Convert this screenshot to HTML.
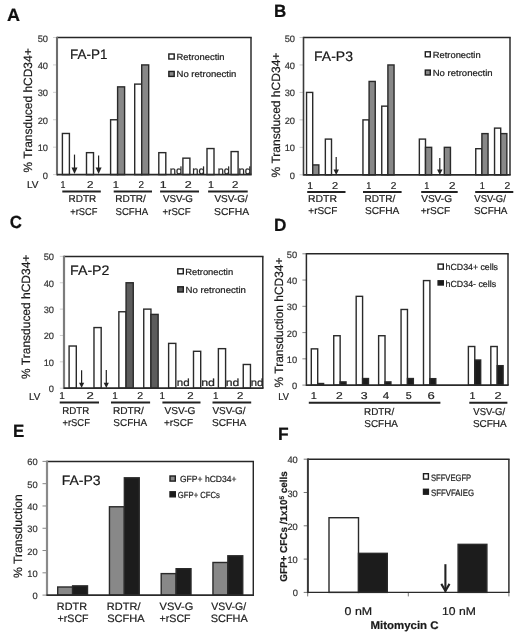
<!DOCTYPE html>
<html><head><meta charset="utf-8"><style>
html,body{margin:0;padding:0;background:#fff;width:520px;height:636px;overflow:hidden}
</style></head><body>
<svg width="520" height="636" viewBox="0 0 520 636" style="display:block;filter:blur(0.35px)">
<rect width="520" height="636" fill="#fff"/>
<g font-family='"Liberation Sans", sans-serif' text-rendering="geometricPrecision">
<text x="7.05" y="20.80" font-size="17.7" font-weight="bold" textLength="13.04" lengthAdjust="spacingAndGlyphs" fill="#111" stroke="#111" stroke-width="0.2">A</text>
<rect x="62.40" y="133.47" width="7.00" height="41.13" fill="#fff" stroke="#2a2a2a" stroke-width="1.4"/>
<rect x="86.50" y="152.66" width="7.00" height="21.94" fill="#fff" stroke="#2a2a2a" stroke-width="1.4"/>
<rect x="110.60" y="119.76" width="7.00" height="54.84" fill="#fff" stroke="#2a2a2a" stroke-width="1.4"/>
<rect x="117.60" y="86.86" width="7.00" height="87.74" fill="#888" stroke="#2a2a2a" stroke-width="1.4"/>
<rect x="134.70" y="84.11" width="7.00" height="90.49" fill="#fff" stroke="#2a2a2a" stroke-width="1.4"/>
<rect x="141.70" y="64.92" width="7.00" height="109.68" fill="#888" stroke="#2a2a2a" stroke-width="1.4"/>
<rect x="158.80" y="152.66" width="7.00" height="21.94" fill="#fff" stroke="#2a2a2a" stroke-width="1.4"/>
<rect x="182.90" y="158.15" width="7.00" height="16.45" fill="#fff" stroke="#2a2a2a" stroke-width="1.4"/>
<rect x="207.00" y="148.55" width="7.00" height="26.05" fill="#fff" stroke="#2a2a2a" stroke-width="1.4"/>
<rect x="231.10" y="151.57" width="7.00" height="23.03" fill="#fff" stroke="#2a2a2a" stroke-width="1.4"/>
<line x1="53.00" y1="174.60" x2="57.00" y2="174.60" stroke="#d0d0d0" stroke-width="1"/>
<text x="48.00" y="178.60" font-size="9.3" text-anchor="end" fill="#333" stroke="#333" stroke-width="0.2">0</text>
<line x1="53.00" y1="147.18" x2="57.00" y2="147.18" stroke="#d0d0d0" stroke-width="1"/>
<text x="48.00" y="151.18" font-size="9.3" text-anchor="end" fill="#333" stroke="#333" stroke-width="0.2">10</text>
<line x1="53.00" y1="119.76" x2="57.00" y2="119.76" stroke="#d0d0d0" stroke-width="1"/>
<text x="48.00" y="123.76" font-size="9.3" text-anchor="end" fill="#333" stroke="#333" stroke-width="0.2">20</text>
<line x1="53.00" y1="92.34" x2="57.00" y2="92.34" stroke="#d0d0d0" stroke-width="1"/>
<text x="48.00" y="96.34" font-size="9.3" text-anchor="end" fill="#333" stroke="#333" stroke-width="0.2">30</text>
<line x1="53.00" y1="64.92" x2="57.00" y2="64.92" stroke="#d0d0d0" stroke-width="1"/>
<text x="48.00" y="68.92" font-size="9.3" text-anchor="end" fill="#333" stroke="#333" stroke-width="0.2">40</text>
<line x1="53.00" y1="37.50" x2="57.00" y2="37.50" stroke="#d0d0d0" stroke-width="1"/>
<text x="48.00" y="41.50" font-size="9.3" text-anchor="end" fill="#333" stroke="#333" stroke-width="0.2">50</text>
<line x1="57.00" y1="37.50" x2="251.72" y2="37.50" stroke="#262626" stroke-width="1.45"/>
<line x1="251.00" y1="37.50" x2="251.00" y2="174.60" stroke="#262626" stroke-width="1.45"/>
<line x1="57.00" y1="36.77" x2="57.00" y2="175.45" stroke="#6e6e6e" stroke-width="2.1"/>
<line x1="57.00" y1="174.60" x2="251.72" y2="174.60" stroke="#2a2a2a" stroke-width="1.7"/>
<line x1="74.50" y1="154.60" x2="74.50" y2="168.00" stroke="#222" stroke-width="1.2"/>
<path d="M71.50,167.50 L77.50,167.50 L74.50,174.00 Z" fill="#222"/>
<line x1="98.60" y1="155.40" x2="98.60" y2="168.00" stroke="#222" stroke-width="1.2"/>
<path d="M95.60,167.50 L101.60,167.50 L98.60,174.00 Z" fill="#222"/>
<text x="169.78" y="173.80" font-size="10.3" textLength="12.37" lengthAdjust="spacingAndGlyphs" fill="#222" stroke="#222" stroke-width="0.2">nd</text>
<text x="192.16" y="173.80" font-size="10.3" textLength="12.60" lengthAdjust="spacingAndGlyphs" fill="#222" stroke="#222" stroke-width="0.2">nd</text>
<text x="217.79" y="173.80" font-size="10.3" textLength="12.14" lengthAdjust="spacingAndGlyphs" fill="#222" stroke="#222" stroke-width="0.2">nd</text>
<text x="238.46" y="173.80" font-size="10.3" textLength="12.60" lengthAdjust="spacingAndGlyphs" fill="#222" stroke="#222" stroke-width="0.2">nd</text>
<text x="70.12" y="59.30" font-size="13.7" textLength="37.44" lengthAdjust="spacingAndGlyphs" fill="#1a1a1a" stroke="#1a1a1a" stroke-width="0.2">FA-P1</text>
<rect x="168.85" y="54.00" width="5.35" height="5.00" fill="#fff" stroke="#1e1e1e" stroke-width="1.4"/>
<text x="176.55" y="60.20" font-size="8.9" textLength="48.05" lengthAdjust="spacingAndGlyphs" fill="#1a1a1a" stroke="#1a1a1a" stroke-width="0.2">Retronectin</text>
<rect x="168.85" y="71.45" width="5.35" height="4.95" fill="#888" stroke="#1e1e1e" stroke-width="1.4"/>
<text x="176.54" y="77.10" font-size="8.9" textLength="59.89" lengthAdjust="spacingAndGlyphs" fill="#1a1a1a" stroke="#1a1a1a" stroke-width="0.2">No retronectin</text>
<text x="26.90" y="188.30" font-size="10" textLength="11.49" lengthAdjust="spacingAndGlyphs" fill="#1a1a1a" stroke="#1a1a1a" stroke-width="0.2">LV</text>
<text x="32.00" y="172.42" font-size="12" textLength="124.09" lengthAdjust="spacingAndGlyphs" transform="rotate(-90 32.00 172.42)" fill="#1a1a1a" stroke="#1a1a1a" stroke-width="0.2">% Transduced hCD34+</text>
<text x="60.54" y="188.40" font-size="10" textLength="4.92" lengthAdjust="spacingAndGlyphs" fill="#222" stroke="#222" stroke-width="0.2">1</text>
<text x="87.12" y="188.40" font-size="10" textLength="6.48" lengthAdjust="spacingAndGlyphs" fill="#222" stroke="#222" stroke-width="0.2">2</text>
<text x="112.86" y="188.40" font-size="10" textLength="6.21" lengthAdjust="spacingAndGlyphs" fill="#222" stroke="#222" stroke-width="0.2">1</text>
<text x="138.51" y="188.40" font-size="10" textLength="5.50" lengthAdjust="spacingAndGlyphs" fill="#222" stroke="#222" stroke-width="0.2">2</text>
<text x="159.68" y="188.40" font-size="10" textLength="6.86" lengthAdjust="spacingAndGlyphs" fill="#222" stroke="#222" stroke-width="0.2">1</text>
<text x="184.87" y="188.40" font-size="10" textLength="6.97" lengthAdjust="spacingAndGlyphs" fill="#222" stroke="#222" stroke-width="0.2">2</text>
<text x="208.00" y="188.40" font-size="10" textLength="5.95" lengthAdjust="spacingAndGlyphs" fill="#222" stroke="#222" stroke-width="0.2">1</text>
<text x="231.93" y="188.40" font-size="10" textLength="6.36" lengthAdjust="spacingAndGlyphs" fill="#222" stroke="#222" stroke-width="0.2">2</text>
<line x1="62.30" y1="191.40" x2="100.80" y2="191.40" stroke="#222" stroke-width="2.0"/>
<line x1="113.70" y1="191.40" x2="152.00" y2="191.40" stroke="#222" stroke-width="2.0"/>
<line x1="160.10" y1="191.40" x2="199.00" y2="191.40" stroke="#222" stroke-width="2.0"/>
<line x1="208.10" y1="191.40" x2="247.70" y2="191.40" stroke="#222" stroke-width="2.0"/>
<text x="68.60" y="202.40" font-size="10.0" textLength="27.67" lengthAdjust="spacingAndGlyphs" fill="#1a1a1a" stroke="#1a1a1a" stroke-width="0.2">RDTR</text>
<text x="70.34" y="214.60" font-size="10.0" textLength="27.05" lengthAdjust="spacingAndGlyphs" fill="#1a1a1a" stroke="#1a1a1a" stroke-width="0.2">+rSCF</text>
<text x="115.20" y="202.40" font-size="10.0" textLength="30.66" lengthAdjust="spacingAndGlyphs" fill="#1a1a1a" stroke="#1a1a1a" stroke-width="0.2">RDTR/</text>
<text x="115.57" y="214.60" font-size="10.0" textLength="32.47" lengthAdjust="spacingAndGlyphs" fill="#1a1a1a" stroke="#1a1a1a" stroke-width="0.2">SCFHA</text>
<text x="163.05" y="202.40" font-size="10.0" textLength="29.95" lengthAdjust="spacingAndGlyphs" fill="#1a1a1a" stroke="#1a1a1a" stroke-width="0.2">VSV-G</text>
<text x="162.62" y="214.60" font-size="10.0" textLength="27.98" lengthAdjust="spacingAndGlyphs" fill="#1a1a1a" stroke="#1a1a1a" stroke-width="0.2">+rSCF</text>
<text x="214.45" y="202.40" font-size="10.0" textLength="33.30" lengthAdjust="spacingAndGlyphs" fill="#1a1a1a" stroke="#1a1a1a" stroke-width="0.2">VSV-G/</text>
<text x="214.04" y="214.60" font-size="10.0" textLength="35.01" lengthAdjust="spacingAndGlyphs" fill="#1a1a1a" stroke="#1a1a1a" stroke-width="0.2">SCFHA</text>
<text x="273.89" y="16.90" font-size="17.7" font-weight="bold" textLength="12.31" lengthAdjust="spacingAndGlyphs" fill="#111" stroke="#111" stroke-width="0.2">B</text>
<rect x="306.55" y="92.42" width="6.15" height="82.38" fill="#fff" stroke="#2a2a2a" stroke-width="1.4"/>
<rect x="312.70" y="164.91" width="6.15" height="9.89" fill="#888" stroke="#2a2a2a" stroke-width="1.4"/>
<rect x="325.35" y="139.10" width="6.15" height="35.70" fill="#fff" stroke="#2a2a2a" stroke-width="1.4"/>
<rect x="362.95" y="119.88" width="6.15" height="54.92" fill="#fff" stroke="#2a2a2a" stroke-width="1.4"/>
<rect x="369.10" y="81.44" width="6.15" height="93.36" fill="#888" stroke="#2a2a2a" stroke-width="1.4"/>
<rect x="381.75" y="106.15" width="6.15" height="68.65" fill="#fff" stroke="#2a2a2a" stroke-width="1.4"/>
<rect x="387.90" y="64.96" width="6.15" height="109.84" fill="#888" stroke="#2a2a2a" stroke-width="1.4"/>
<rect x="419.35" y="139.10" width="6.15" height="35.70" fill="#fff" stroke="#2a2a2a" stroke-width="1.4"/>
<rect x="425.50" y="147.34" width="6.15" height="27.46" fill="#888" stroke="#2a2a2a" stroke-width="1.4"/>
<rect x="444.30" y="147.34" width="6.15" height="27.46" fill="#888" stroke="#2a2a2a" stroke-width="1.4"/>
<rect x="475.75" y="148.71" width="6.15" height="26.09" fill="#fff" stroke="#2a2a2a" stroke-width="1.4"/>
<rect x="481.90" y="133.61" width="6.15" height="41.19" fill="#888" stroke="#2a2a2a" stroke-width="1.4"/>
<rect x="494.55" y="128.12" width="6.15" height="46.68" fill="#fff" stroke="#2a2a2a" stroke-width="1.4"/>
<rect x="500.70" y="133.61" width="6.15" height="41.19" fill="#888" stroke="#2a2a2a" stroke-width="1.4"/>
<line x1="299.50" y1="174.80" x2="303.50" y2="174.80" stroke="#c8c8c8" stroke-width="1"/>
<text x="295.00" y="178.80" font-size="9.3" text-anchor="end" fill="#333" stroke="#333" stroke-width="0.2">0</text>
<line x1="299.50" y1="147.34" x2="303.50" y2="147.34" stroke="#c8c8c8" stroke-width="1"/>
<text x="295.00" y="151.34" font-size="9.3" text-anchor="end" fill="#333" stroke="#333" stroke-width="0.2">10</text>
<line x1="299.50" y1="119.88" x2="303.50" y2="119.88" stroke="#c8c8c8" stroke-width="1"/>
<text x="295.00" y="123.88" font-size="9.3" text-anchor="end" fill="#333" stroke="#333" stroke-width="0.2">20</text>
<line x1="299.50" y1="92.42" x2="303.50" y2="92.42" stroke="#c8c8c8" stroke-width="1"/>
<text x="295.00" y="96.42" font-size="9.3" text-anchor="end" fill="#333" stroke="#333" stroke-width="0.2">30</text>
<line x1="299.50" y1="64.96" x2="303.50" y2="64.96" stroke="#c8c8c8" stroke-width="1"/>
<text x="295.00" y="68.96" font-size="9.3" text-anchor="end" fill="#333" stroke="#333" stroke-width="0.2">40</text>
<line x1="299.50" y1="37.50" x2="303.50" y2="37.50" stroke="#c8c8c8" stroke-width="1"/>
<text x="295.00" y="41.50" font-size="9.3" text-anchor="end" fill="#333" stroke="#333" stroke-width="0.2">50</text>
<line x1="303.50" y1="37.50" x2="510.73" y2="37.50" stroke="#262626" stroke-width="1.45"/>
<line x1="510.00" y1="37.50" x2="510.00" y2="174.80" stroke="#262626" stroke-width="1.45"/>
<line x1="303.50" y1="36.77" x2="303.50" y2="175.65" stroke="#3a3a3a" stroke-width="1.6"/>
<line x1="303.50" y1="174.80" x2="510.73" y2="174.80" stroke="#2a2a2a" stroke-width="1.7"/>
<line x1="336.20" y1="157.00" x2="336.20" y2="170.00" stroke="#222" stroke-width="1.2"/>
<path d="M333.50,169.50 L338.90,169.50 L336.20,175.00 Z" fill="#222"/>
<line x1="439.80" y1="158.00" x2="439.80" y2="170.00" stroke="#222" stroke-width="1.2"/>
<path d="M437.10,169.50 L442.50,169.50 L439.80,175.00 Z" fill="#222"/>
<text x="314.08" y="60.50" font-size="13.7" textLength="38.94" lengthAdjust="spacingAndGlyphs" fill="#1a1a1a" stroke="#1a1a1a" stroke-width="0.2">FA-P3</text>
<rect x="425.30" y="51.80" width="5.00" height="5.00" fill="#fff" stroke="#1e1e1e" stroke-width="1.4"/>
<text x="432.75" y="57.70" font-size="8.9" textLength="47.85" lengthAdjust="spacingAndGlyphs" fill="#1a1a1a" stroke="#1a1a1a" stroke-width="0.2">Retronectin</text>
<rect x="425.30" y="70.10" width="5.00" height="4.90" fill="#888" stroke="#1e1e1e" stroke-width="1.4"/>
<text x="432.74" y="76.10" font-size="8.9" textLength="59.89" lengthAdjust="spacingAndGlyphs" fill="#1a1a1a" stroke="#1a1a1a" stroke-width="0.2">No retronectin</text>
<text x="279.80" y="177.42" font-size="12" textLength="124.79" lengthAdjust="spacingAndGlyphs" transform="rotate(-90 279.80 177.42)" fill="#1a1a1a" stroke="#1a1a1a" stroke-width="0.2">% Transduced hCD34+</text>
<text x="307.22" y="188.60" font-size="10" textLength="5.82" lengthAdjust="spacingAndGlyphs" fill="#222" stroke="#222" stroke-width="0.2">1</text>
<text x="331.95" y="188.60" font-size="10" textLength="6.11" lengthAdjust="spacingAndGlyphs" fill="#222" stroke="#222" stroke-width="0.2">2</text>
<text x="366.32" y="188.60" font-size="10" textLength="5.04" lengthAdjust="spacingAndGlyphs" fill="#222" stroke="#222" stroke-width="0.2">1</text>
<text x="390.69" y="188.60" font-size="10" textLength="5.62" lengthAdjust="spacingAndGlyphs" fill="#222" stroke="#222" stroke-width="0.2">2</text>
<text x="424.32" y="188.60" font-size="10" textLength="5.04" lengthAdjust="spacingAndGlyphs" fill="#222" stroke="#222" stroke-width="0.2">1</text>
<text x="449.12" y="188.60" font-size="10" textLength="6.48" lengthAdjust="spacingAndGlyphs" fill="#222" stroke="#222" stroke-width="0.2">2</text>
<text x="479.72" y="188.60" font-size="10" textLength="5.04" lengthAdjust="spacingAndGlyphs" fill="#222" stroke="#222" stroke-width="0.2">1</text>
<text x="504.48" y="188.60" font-size="10" textLength="5.75" lengthAdjust="spacingAndGlyphs" fill="#222" stroke="#222" stroke-width="0.2">2</text>
<line x1="307.20" y1="191.90" x2="345.50" y2="191.90" stroke="#222" stroke-width="2.0"/>
<line x1="363.00" y1="191.90" x2="401.60" y2="191.90" stroke="#222" stroke-width="2.0"/>
<line x1="421.20" y1="191.90" x2="457.70" y2="191.90" stroke="#222" stroke-width="2.0"/>
<line x1="475.20" y1="191.90" x2="513.30" y2="191.90" stroke="#222" stroke-width="2.0"/>
<text x="307.96" y="202.40" font-size="10.0" textLength="29.03" lengthAdjust="spacingAndGlyphs" fill="#1a1a1a" stroke="#1a1a1a" stroke-width="0.2">RDTR</text>
<text x="308.30" y="214.40" font-size="10.0" textLength="29.12" lengthAdjust="spacingAndGlyphs" fill="#1a1a1a" stroke="#1a1a1a" stroke-width="0.2">+rSCF</text>
<text x="364.60" y="202.40" font-size="10.0" textLength="30.66" lengthAdjust="spacingAndGlyphs" fill="#1a1a1a" stroke="#1a1a1a" stroke-width="0.2">RDTR/</text>
<text x="364.94" y="214.40" font-size="10.0" textLength="34.40" lengthAdjust="spacingAndGlyphs" fill="#1a1a1a" stroke="#1a1a1a" stroke-width="0.2">SCFHA</text>
<text x="421.15" y="202.40" font-size="10.0" textLength="30.88" lengthAdjust="spacingAndGlyphs" fill="#1a1a1a" stroke="#1a1a1a" stroke-width="0.2">VSV-G</text>
<text x="420.70" y="214.40" font-size="10.0" textLength="29.43" lengthAdjust="spacingAndGlyphs" fill="#1a1a1a" stroke="#1a1a1a" stroke-width="0.2">+rSCF</text>
<text x="474.35" y="202.40" font-size="10.0" textLength="31.49" lengthAdjust="spacingAndGlyphs" fill="#1a1a1a" stroke="#1a1a1a" stroke-width="0.2">VSV-G/</text>
<text x="473.96" y="214.40" font-size="10.0" textLength="33.49" lengthAdjust="spacingAndGlyphs" fill="#1a1a1a" stroke="#1a1a1a" stroke-width="0.2">SCFHA</text>
<text x="9.72" y="228.40" font-size="17.7" font-weight="bold" textLength="12.24" lengthAdjust="spacingAndGlyphs" fill="#111" stroke="#111" stroke-width="0.2">C</text>
<rect x="69.10" y="346.02" width="7.20" height="42.18" fill="#fff" stroke="#2a2a2a" stroke-width="1.4"/>
<rect x="93.98" y="327.57" width="7.20" height="60.63" fill="#fff" stroke="#2a2a2a" stroke-width="1.4"/>
<rect x="118.86" y="311.76" width="7.20" height="76.44" fill="#fff" stroke="#2a2a2a" stroke-width="1.4"/>
<rect x="126.06" y="282.76" width="7.20" height="105.44" fill="#5c5c5c" stroke="#2a2a2a" stroke-width="1.4"/>
<rect x="143.74" y="309.12" width="7.20" height="79.08" fill="#fff" stroke="#2a2a2a" stroke-width="1.4"/>
<rect x="150.94" y="314.39" width="7.20" height="73.81" fill="#5c5c5c" stroke="#2a2a2a" stroke-width="1.4"/>
<rect x="168.62" y="343.39" width="7.20" height="44.81" fill="#fff" stroke="#2a2a2a" stroke-width="1.4"/>
<rect x="193.50" y="351.30" width="7.20" height="36.90" fill="#fff" stroke="#2a2a2a" stroke-width="1.4"/>
<rect x="218.38" y="348.66" width="7.20" height="39.54" fill="#fff" stroke="#2a2a2a" stroke-width="1.4"/>
<rect x="243.26" y="364.48" width="7.20" height="23.72" fill="#fff" stroke="#2a2a2a" stroke-width="1.4"/>
<line x1="59.80" y1="388.20" x2="63.80" y2="388.20" stroke="#d0d0d0" stroke-width="1"/>
<text x="54.00" y="392.20" font-size="9.3" text-anchor="end" fill="#333" stroke="#333" stroke-width="0.2">0</text>
<line x1="59.80" y1="361.84" x2="63.80" y2="361.84" stroke="#d0d0d0" stroke-width="1"/>
<text x="54.00" y="365.84" font-size="9.3" text-anchor="end" fill="#333" stroke="#333" stroke-width="0.2">10</text>
<line x1="59.80" y1="335.48" x2="63.80" y2="335.48" stroke="#d0d0d0" stroke-width="1"/>
<text x="54.00" y="339.48" font-size="9.3" text-anchor="end" fill="#333" stroke="#333" stroke-width="0.2">20</text>
<line x1="59.80" y1="309.12" x2="63.80" y2="309.12" stroke="#d0d0d0" stroke-width="1"/>
<text x="54.00" y="313.12" font-size="9.3" text-anchor="end" fill="#333" stroke="#333" stroke-width="0.2">30</text>
<line x1="59.80" y1="282.76" x2="63.80" y2="282.76" stroke="#d0d0d0" stroke-width="1"/>
<text x="54.00" y="286.76" font-size="9.3" text-anchor="end" fill="#333" stroke="#333" stroke-width="0.2">40</text>
<line x1="59.80" y1="256.40" x2="63.80" y2="256.40" stroke="#d0d0d0" stroke-width="1"/>
<text x="54.00" y="260.40" font-size="9.3" text-anchor="end" fill="#333" stroke="#333" stroke-width="0.2">50</text>
<line x1="63.80" y1="256.40" x2="263.53" y2="256.40" stroke="#262626" stroke-width="1.45"/>
<line x1="262.80" y1="256.40" x2="262.80" y2="388.20" stroke="#262626" stroke-width="1.45"/>
<line x1="64.00" y1="255.67" x2="64.00" y2="389.05" stroke="#7c7c7c" stroke-width="2.2"/>
<line x1="63.80" y1="388.20" x2="263.53" y2="388.20" stroke="#2a2a2a" stroke-width="1.7"/>
<line x1="81.60" y1="370.30" x2="81.60" y2="383.30" stroke="#222" stroke-width="1.2"/>
<path d="M79.00,382.80 L84.20,382.80 L81.60,388.00 Z" fill="#222"/>
<line x1="106.30" y1="370.00" x2="106.30" y2="383.30" stroke="#222" stroke-width="1.2"/>
<path d="M103.70,382.80 L108.90,382.80 L106.30,388.00 Z" fill="#222"/>
<text x="176.84" y="385.80" font-size="10.3" textLength="12.94" lengthAdjust="spacingAndGlyphs" fill="#222" stroke="#222" stroke-width="0.2">nd</text>
<text x="201.19" y="385.80" font-size="10.3" textLength="13.85" lengthAdjust="spacingAndGlyphs" fill="#222" stroke="#222" stroke-width="0.2">nd</text>
<text x="225.70" y="385.80" font-size="10.3" textLength="13.62" lengthAdjust="spacingAndGlyphs" fill="#222" stroke="#222" stroke-width="0.2">nd</text>
<text x="250.76" y="385.80" font-size="10.3" textLength="12.60" lengthAdjust="spacingAndGlyphs" fill="#222" stroke="#222" stroke-width="0.2">nd</text>
<text x="70.06" y="275.10" font-size="13.7" textLength="39.43" lengthAdjust="spacingAndGlyphs" fill="#1a1a1a" stroke="#1a1a1a" stroke-width="0.2">FA-P2</text>
<rect x="177.80" y="268.80" width="5.50" height="5.00" fill="#fff" stroke="#1e1e1e" stroke-width="1.4"/>
<text x="185.15" y="275.30" font-size="8.9" textLength="48.05" lengthAdjust="spacingAndGlyphs" fill="#1a1a1a" stroke="#1a1a1a" stroke-width="0.2">Retronectin</text>
<rect x="177.80" y="286.80" width="5.50" height="5.20" fill="#5c5c5c" stroke="#1e1e1e" stroke-width="1.4"/>
<text x="185.63" y="293.10" font-size="8.9" textLength="60.30" lengthAdjust="spacingAndGlyphs" fill="#1a1a1a" stroke="#1a1a1a" stroke-width="0.2">No retronectin</text>
<text x="29.02" y="399.50" font-size="10" textLength="11.27" lengthAdjust="spacingAndGlyphs" fill="#1a1a1a" stroke="#1a1a1a" stroke-width="0.2">LV</text>
<text x="30.20" y="378.92" font-size="12" textLength="124.29" lengthAdjust="spacingAndGlyphs" transform="rotate(-90 30.20 378.92)" fill="#1a1a1a" stroke="#1a1a1a" stroke-width="0.2">% Transduced hCD34+</text>
<text x="59.35" y="399.40" font-size="10" textLength="5.56" lengthAdjust="spacingAndGlyphs" fill="#222" stroke="#222" stroke-width="0.2">1</text>
<text x="86.44" y="399.40" font-size="10" textLength="7.33" lengthAdjust="spacingAndGlyphs" fill="#222" stroke="#222" stroke-width="0.2">2</text>
<text x="112.35" y="399.40" font-size="10" textLength="5.56" lengthAdjust="spacingAndGlyphs" fill="#222" stroke="#222" stroke-width="0.2">1</text>
<text x="137.37" y="399.40" font-size="10" textLength="5.87" lengthAdjust="spacingAndGlyphs" fill="#222" stroke="#222" stroke-width="0.2">2</text>
<text x="159.57" y="399.40" font-size="10" textLength="5.43" lengthAdjust="spacingAndGlyphs" fill="#222" stroke="#222" stroke-width="0.2">1</text>
<text x="187.23" y="399.40" font-size="10" textLength="6.36" lengthAdjust="spacingAndGlyphs" fill="#222" stroke="#222" stroke-width="0.2">2</text>
<text x="213.07" y="399.40" font-size="10" textLength="5.43" lengthAdjust="spacingAndGlyphs" fill="#222" stroke="#222" stroke-width="0.2">1</text>
<text x="236.93" y="399.40" font-size="10" textLength="6.36" lengthAdjust="spacingAndGlyphs" fill="#222" stroke="#222" stroke-width="0.2">2</text>
<line x1="59.70" y1="402.60" x2="99.00" y2="402.60" stroke="#222" stroke-width="2.0"/>
<line x1="111.00" y1="402.60" x2="150.10" y2="402.60" stroke="#222" stroke-width="2.0"/>
<line x1="162.40" y1="402.60" x2="200.50" y2="402.60" stroke="#222" stroke-width="2.0"/>
<line x1="212.50" y1="402.60" x2="251.20" y2="402.60" stroke="#222" stroke-width="2.0"/>
<text x="62.22" y="414.20" font-size="10.0" textLength="27.04" lengthAdjust="spacingAndGlyphs" fill="#1a1a1a" stroke="#1a1a1a" stroke-width="0.2">RDTR</text>
<text x="62.53" y="426.30" font-size="10.0" textLength="27.36" lengthAdjust="spacingAndGlyphs" fill="#1a1a1a" stroke="#1a1a1a" stroke-width="0.2">+rSCF</text>
<text x="112.99" y="414.20" font-size="10.0" textLength="30.86" lengthAdjust="spacingAndGlyphs" fill="#1a1a1a" stroke="#1a1a1a" stroke-width="0.2">RDTR/</text>
<text x="113.35" y="426.30" font-size="10.0" textLength="33.69" lengthAdjust="spacingAndGlyphs" fill="#1a1a1a" stroke="#1a1a1a" stroke-width="0.2">SCFHA</text>
<text x="164.45" y="414.20" font-size="10.0" textLength="30.98" lengthAdjust="spacingAndGlyphs" fill="#1a1a1a" stroke="#1a1a1a" stroke-width="0.2">VSV-G</text>
<text x="164.00" y="426.30" font-size="10.0" textLength="29.02" lengthAdjust="spacingAndGlyphs" fill="#1a1a1a" stroke="#1a1a1a" stroke-width="0.2">+rSCF</text>
<text x="212.45" y="414.20" font-size="10.0" textLength="33.10" lengthAdjust="spacingAndGlyphs" fill="#1a1a1a" stroke="#1a1a1a" stroke-width="0.2">VSV-G/</text>
<text x="212.04" y="426.30" font-size="10.0" textLength="34.30" lengthAdjust="spacingAndGlyphs" fill="#1a1a1a" stroke="#1a1a1a" stroke-width="0.2">SCFHA</text>
<text x="274.08" y="231.30" font-size="17.7" font-weight="bold" textLength="12.45" lengthAdjust="spacingAndGlyphs" fill="#111" stroke="#111" stroke-width="0.2">D</text>
<rect x="311.30" y="348.86" width="6.40" height="36.24" fill="#fff" stroke="#2a2a2a" stroke-width="1.4"/>
<rect x="317.70" y="383.52" width="5.90" height="1.58" fill="#1c1c1c" stroke="#2a2a2a" stroke-width="1.4"/>
<rect x="333.74" y="335.73" width="6.40" height="49.37" fill="#fff" stroke="#2a2a2a" stroke-width="1.4"/>
<rect x="340.14" y="381.90" width="5.90" height="3.20" fill="#1c1c1c" stroke="#2a2a2a" stroke-width="1.4"/>
<rect x="356.18" y="296.34" width="6.40" height="88.76" fill="#fff" stroke="#2a2a2a" stroke-width="1.4"/>
<rect x="362.58" y="378.54" width="5.90" height="6.57" fill="#1c1c1c" stroke="#2a2a2a" stroke-width="1.4"/>
<rect x="378.62" y="335.73" width="6.40" height="49.37" fill="#fff" stroke="#2a2a2a" stroke-width="1.4"/>
<rect x="385.02" y="381.90" width="5.90" height="3.20" fill="#1c1c1c" stroke="#2a2a2a" stroke-width="1.4"/>
<rect x="401.06" y="309.47" width="6.40" height="75.63" fill="#fff" stroke="#2a2a2a" stroke-width="1.4"/>
<rect x="407.46" y="378.54" width="5.90" height="6.57" fill="#1c1c1c" stroke="#2a2a2a" stroke-width="1.4"/>
<rect x="423.50" y="280.59" width="6.40" height="104.51" fill="#fff" stroke="#2a2a2a" stroke-width="1.4"/>
<rect x="429.90" y="378.67" width="5.90" height="6.43" fill="#1c1c1c" stroke="#2a2a2a" stroke-width="1.4"/>
<rect x="468.38" y="346.50" width="6.40" height="38.60" fill="#fff" stroke="#2a2a2a" stroke-width="1.4"/>
<rect x="474.78" y="360.02" width="5.90" height="25.08" fill="#1c1c1c" stroke="#2a2a2a" stroke-width="1.4"/>
<rect x="490.82" y="346.50" width="6.40" height="38.60" fill="#fff" stroke="#2a2a2a" stroke-width="1.4"/>
<rect x="497.22" y="365.67" width="5.90" height="19.43" fill="#1c1c1c" stroke="#2a2a2a" stroke-width="1.4"/>
<line x1="302.40" y1="385.10" x2="306.40" y2="385.10" stroke="#888" stroke-width="1"/>
<text x="297.20" y="389.10" font-size="9.3" text-anchor="end" fill="#333" stroke="#333" stroke-width="0.2">0</text>
<line x1="302.40" y1="358.84" x2="306.40" y2="358.84" stroke="#888" stroke-width="1"/>
<text x="297.20" y="362.84" font-size="9.3" text-anchor="end" fill="#333" stroke="#333" stroke-width="0.2">10</text>
<line x1="302.40" y1="332.58" x2="306.40" y2="332.58" stroke="#888" stroke-width="1"/>
<text x="297.20" y="336.58" font-size="9.3" text-anchor="end" fill="#333" stroke="#333" stroke-width="0.2">20</text>
<line x1="302.40" y1="306.32" x2="306.40" y2="306.32" stroke="#888" stroke-width="1"/>
<text x="297.20" y="310.32" font-size="9.3" text-anchor="end" fill="#333" stroke="#333" stroke-width="0.2">30</text>
<line x1="302.40" y1="280.06" x2="306.40" y2="280.06" stroke="#888" stroke-width="1"/>
<text x="297.20" y="284.06" font-size="9.3" text-anchor="end" fill="#333" stroke="#333" stroke-width="0.2">40</text>
<line x1="302.40" y1="253.80" x2="306.40" y2="253.80" stroke="#888" stroke-width="1"/>
<text x="297.20" y="257.80" font-size="9.3" text-anchor="end" fill="#333" stroke="#333" stroke-width="0.2">50</text>
<line x1="306.40" y1="253.80" x2="508.73" y2="253.80" stroke="#262626" stroke-width="1.45"/>
<line x1="508.00" y1="253.80" x2="508.00" y2="385.10" stroke="#262626" stroke-width="1.45"/>
<line x1="306.40" y1="253.08" x2="306.40" y2="385.95" stroke="#2a2a2a" stroke-width="1.5"/>
<line x1="306.40" y1="385.10" x2="508.73" y2="385.10" stroke="#2a2a2a" stroke-width="1.7"/>
<rect x="438.10" y="264.10" width="5.20" height="5.00" fill="#fff" stroke="#1e1e1e" stroke-width="1.4"/>
<text x="445.59" y="270.40" font-size="8.9" textLength="52.42" lengthAdjust="spacingAndGlyphs" fill="#1a1a1a" stroke="#1a1a1a" stroke-width="0.2">hCD34+ cells</text>
<rect x="438.10" y="280.80" width="5.20" height="4.20" fill="#1c1c1c" stroke="#1e1e1e" stroke-width="1.4"/>
<text x="445.58" y="286.60" font-size="8.9" textLength="50.52" lengthAdjust="spacingAndGlyphs" fill="#1a1a1a" stroke="#1a1a1a" stroke-width="0.2">hCD34- cells</text>
<text x="278.26" y="399.50" font-size="10" textLength="10.62" lengthAdjust="spacingAndGlyphs" fill="#1a1a1a" stroke="#1a1a1a" stroke-width="0.2">LV</text>
<text x="283.50" y="387.42" font-size="12" textLength="129.89" lengthAdjust="spacingAndGlyphs" transform="rotate(-90 283.50 387.42)" fill="#1a1a1a" stroke="#1a1a1a" stroke-width="0.2">% Transduction hCD34+</text>
<text x="310.68" y="399.40" font-size="10" textLength="6.08" lengthAdjust="spacingAndGlyphs" fill="#222" stroke="#222" stroke-width="0.2">1</text>
<text x="335.90" y="399.40" font-size="10" textLength="6.72" lengthAdjust="spacingAndGlyphs" fill="#222" stroke="#222" stroke-width="0.2">2</text>
<text x="360.71" y="399.40" font-size="10" textLength="6.86" lengthAdjust="spacingAndGlyphs" fill="#222" stroke="#222" stroke-width="0.2">3</text>
<text x="382.81" y="399.40" font-size="10" textLength="6.45" lengthAdjust="spacingAndGlyphs" fill="#222" stroke="#222" stroke-width="0.2">4</text>
<text x="405.87" y="399.40" font-size="10" textLength="5.97" lengthAdjust="spacingAndGlyphs" fill="#222" stroke="#222" stroke-width="0.2">5</text>
<text x="427.55" y="399.40" font-size="10" textLength="7.25" lengthAdjust="spacingAndGlyphs" fill="#222" stroke="#222" stroke-width="0.2">6</text>
<text x="469.60" y="399.40" font-size="10" textLength="5.95" lengthAdjust="spacingAndGlyphs" fill="#222" stroke="#222" stroke-width="0.2">1</text>
<text x="494.56" y="399.40" font-size="10" textLength="7.09" lengthAdjust="spacingAndGlyphs" fill="#222" stroke="#222" stroke-width="0.2">2</text>
<line x1="308.80" y1="402.80" x2="440.40" y2="402.80" stroke="#222" stroke-width="2.0"/>
<line x1="469.30" y1="402.80" x2="507.40" y2="402.80" stroke="#222" stroke-width="2.0"/>
<text x="364.01" y="415.10" font-size="10.0" textLength="30.24" lengthAdjust="spacingAndGlyphs" fill="#1a1a1a" stroke="#1a1a1a" stroke-width="0.2">RDTR/</text>
<text x="364.35" y="427.30" font-size="10.0" textLength="33.59" lengthAdjust="spacingAndGlyphs" fill="#1a1a1a" stroke="#1a1a1a" stroke-width="0.2">SCFHA</text>
<text x="473.35" y="415.10" font-size="10.0" textLength="31.69" lengthAdjust="spacingAndGlyphs" fill="#1a1a1a" stroke="#1a1a1a" stroke-width="0.2">VSV-G/</text>
<text x="472.95" y="427.30" font-size="10.0" textLength="33.79" lengthAdjust="spacingAndGlyphs" fill="#1a1a1a" stroke="#1a1a1a" stroke-width="0.2">SCFHA</text>
<text x="13.10" y="436.50" font-size="17.7" font-weight="bold" textLength="11.33" lengthAdjust="spacingAndGlyphs" fill="#111" stroke="#111" stroke-width="0.2">E</text>
<rect x="57.70" y="586.99" width="14.90" height="8.11" fill="#888" stroke="#2a2a2a" stroke-width="1.4"/>
<rect x="72.60" y="585.87" width="14.90" height="9.23" fill="#1c1c1c" stroke="#2a2a2a" stroke-width="1.4"/>
<rect x="109.45" y="506.77" width="14.90" height="88.33" fill="#888" stroke="#2a2a2a" stroke-width="1.4"/>
<rect x="124.35" y="477.80" width="14.90" height="117.30" fill="#1c1c1c" stroke="#2a2a2a" stroke-width="1.4"/>
<rect x="161.20" y="573.62" width="14.90" height="21.48" fill="#888" stroke="#2a2a2a" stroke-width="1.4"/>
<rect x="176.10" y="568.71" width="14.90" height="26.39" fill="#1c1c1c" stroke="#2a2a2a" stroke-width="1.4"/>
<rect x="212.95" y="562.48" width="14.90" height="32.63" fill="#888" stroke="#2a2a2a" stroke-width="1.4"/>
<rect x="227.85" y="555.79" width="14.90" height="39.31" fill="#1c1c1c" stroke="#2a2a2a" stroke-width="1.4"/>
<line x1="42.50" y1="595.10" x2="46.50" y2="595.10" stroke="#888" stroke-width="1"/>
<text x="37.60" y="599.10" font-size="9.3" text-anchor="end" fill="#333" stroke="#333" stroke-width="0.2">0</text>
<line x1="42.50" y1="572.82" x2="46.50" y2="572.82" stroke="#888" stroke-width="1"/>
<text x="37.60" y="576.82" font-size="9.3" text-anchor="end" fill="#333" stroke="#333" stroke-width="0.2">10</text>
<line x1="42.50" y1="550.53" x2="46.50" y2="550.53" stroke="#888" stroke-width="1"/>
<text x="37.60" y="554.53" font-size="9.3" text-anchor="end" fill="#333" stroke="#333" stroke-width="0.2">20</text>
<line x1="42.50" y1="528.25" x2="46.50" y2="528.25" stroke="#888" stroke-width="1"/>
<text x="37.60" y="532.25" font-size="9.3" text-anchor="end" fill="#333" stroke="#333" stroke-width="0.2">30</text>
<line x1="42.50" y1="505.97" x2="46.50" y2="505.97" stroke="#888" stroke-width="1"/>
<text x="37.60" y="509.97" font-size="9.3" text-anchor="end" fill="#333" stroke="#333" stroke-width="0.2">40</text>
<line x1="42.50" y1="483.68" x2="46.50" y2="483.68" stroke="#888" stroke-width="1"/>
<text x="37.60" y="487.68" font-size="9.3" text-anchor="end" fill="#333" stroke="#333" stroke-width="0.2">50</text>
<line x1="42.50" y1="461.40" x2="46.50" y2="461.40" stroke="#888" stroke-width="1"/>
<text x="37.60" y="465.40" font-size="9.3" text-anchor="end" fill="#333" stroke="#333" stroke-width="0.2">60</text>
<line x1="46.50" y1="461.40" x2="254.03" y2="461.40" stroke="#262626" stroke-width="1.45"/>
<line x1="253.30" y1="461.40" x2="253.30" y2="595.10" stroke="#262626" stroke-width="1.45"/>
<line x1="47.00" y1="460.67" x2="47.00" y2="595.95" stroke="#8a8a8a" stroke-width="2.2"/>
<line x1="46.50" y1="595.10" x2="254.03" y2="595.10" stroke="#2a2a2a" stroke-width="1.7"/>
<text x="61.68" y="484.70" font-size="13.7" textLength="38.94" lengthAdjust="spacingAndGlyphs" fill="#1a1a1a" stroke="#1a1a1a" stroke-width="0.2">FA-P3</text>
<rect x="170.00" y="476.00" width="5.30" height="5.10" fill="#888" stroke="#1e1e1e" stroke-width="1.4"/>
<text x="179.97" y="482.20" font-size="8.9" textLength="56.55" lengthAdjust="spacingAndGlyphs" fill="#1a1a1a" stroke="#1a1a1a" stroke-width="0.2">GFP+ hCD34+</text>
<rect x="170.00" y="491.80" width="5.30" height="5.00" fill="#1c1c1c" stroke="#1e1e1e" stroke-width="1.4"/>
<text x="177.82" y="498.30" font-size="8.9" textLength="42.14" lengthAdjust="spacingAndGlyphs" fill="#1a1a1a" stroke="#1a1a1a" stroke-width="0.2">GFP+ CFCs</text>
<text x="22.30" y="578.03" font-size="12" textLength="83.75" lengthAdjust="spacingAndGlyphs" transform="rotate(-90 22.30 578.03)" fill="#1a1a1a" stroke="#1a1a1a" stroke-width="0.2">% Transduction</text>
<text x="56.83" y="610.00" font-size="10.7" textLength="30.18" lengthAdjust="spacingAndGlyphs" fill="#1a1a1a" stroke="#1a1a1a" stroke-width="0.2">RDTR</text>
<text x="57.57" y="622.30" font-size="10.7" textLength="30.98" lengthAdjust="spacingAndGlyphs" fill="#1a1a1a" stroke="#1a1a1a" stroke-width="0.2">+rSCF</text>
<text x="106.82" y="610.00" font-size="10.7" textLength="33.64" lengthAdjust="spacingAndGlyphs" fill="#1a1a1a" stroke="#1a1a1a" stroke-width="0.2">RDTR/</text>
<text x="107.20" y="622.30" font-size="10.7" textLength="37.44" lengthAdjust="spacingAndGlyphs" fill="#1a1a1a" stroke="#1a1a1a" stroke-width="0.2">SCFHA</text>
<text x="159.64" y="610.00" font-size="10.7" textLength="33.65" lengthAdjust="spacingAndGlyphs" fill="#1a1a1a" stroke="#1a1a1a" stroke-width="0.2">VSV-G</text>
<text x="159.57" y="622.30" font-size="10.7" textLength="30.98" lengthAdjust="spacingAndGlyphs" fill="#1a1a1a" stroke="#1a1a1a" stroke-width="0.2">+rSCF</text>
<text x="211.25" y="610.00" font-size="10.7" textLength="34.80" lengthAdjust="spacingAndGlyphs" fill="#1a1a1a" stroke="#1a1a1a" stroke-width="0.2">VSV-G/</text>
<text x="210.81" y="622.30" font-size="10.7" textLength="36.94" lengthAdjust="spacingAndGlyphs" fill="#1a1a1a" stroke="#1a1a1a" stroke-width="0.2">SCFHA</text>
<text x="278.07" y="440.00" font-size="17.7" font-weight="bold" textLength="10.66" lengthAdjust="spacingAndGlyphs" fill="#111" stroke="#111" stroke-width="0.2">F</text>
<rect x="329.00" y="517.71" width="29.50" height="74.69" fill="#fff" stroke="#2a2a2a" stroke-width="1.4"/>
<rect x="358.50" y="553.34" width="28.80" height="39.06" fill="#1c1c1c" stroke="#2a2a2a" stroke-width="1.4"/>
<rect x="458.10" y="544.35" width="28.80" height="48.05" fill="#1c1c1c" stroke="#2a2a2a" stroke-width="1.4"/>
<line x1="303.70" y1="592.40" x2="307.70" y2="592.40" stroke="#777" stroke-width="1"/>
<text x="297.80" y="596.40" font-size="9.3" text-anchor="end" fill="#333" stroke="#333" stroke-width="0.2">0</text>
<line x1="303.70" y1="559.10" x2="307.70" y2="559.10" stroke="#777" stroke-width="1"/>
<text x="297.80" y="563.10" font-size="9.3" text-anchor="end" fill="#333" stroke="#333" stroke-width="0.2">10</text>
<line x1="303.70" y1="525.80" x2="307.70" y2="525.80" stroke="#777" stroke-width="1"/>
<text x="297.80" y="529.80" font-size="9.3" text-anchor="end" fill="#333" stroke="#333" stroke-width="0.2">20</text>
<line x1="303.70" y1="492.50" x2="307.70" y2="492.50" stroke="#777" stroke-width="1"/>
<text x="297.80" y="496.50" font-size="9.3" text-anchor="end" fill="#333" stroke="#333" stroke-width="0.2">30</text>
<line x1="303.70" y1="459.20" x2="307.70" y2="459.20" stroke="#777" stroke-width="1"/>
<text x="297.80" y="463.20" font-size="9.3" text-anchor="end" fill="#333" stroke="#333" stroke-width="0.2">40</text>
<line x1="307.70" y1="592.40" x2="307.70" y2="596.40" stroke="#777" stroke-width="1"/>
<line x1="408.30" y1="592.40" x2="408.30" y2="596.40" stroke="#777" stroke-width="1"/>
<line x1="508.90" y1="592.40" x2="508.90" y2="596.40" stroke="#777" stroke-width="1"/>
<line x1="307.70" y1="459.20" x2="509.62" y2="459.20" stroke="#262626" stroke-width="1.45"/>
<line x1="508.90" y1="459.20" x2="508.90" y2="592.40" stroke="#262626" stroke-width="1.45"/>
<line x1="307.90" y1="458.47" x2="307.90" y2="593.10" stroke="#383838" stroke-width="2.0"/>
<line x1="307.70" y1="592.40" x2="509.62" y2="592.40" stroke="#2a2a2a" stroke-width="1.4"/>
<line x1="445.40" y1="564.20" x2="445.40" y2="591.50" stroke="#222" stroke-width="2.1"/>
<path d="M441.30,583.90 L445.40,591.00 L449.50,583.90" fill="none" stroke="#222" stroke-width="2.1"/>
<rect x="423.50" y="473.70" width="4.90" height="5.40" fill="#fff" stroke="#1e1e1e" stroke-width="1.4"/>
<text x="430.96" y="480.70" font-size="9.3" textLength="40.15" lengthAdjust="spacingAndGlyphs" fill="#1a1a1a" stroke="#1a1a1a" stroke-width="0.2">SFFVEGFP</text>
<rect x="423.50" y="489.30" width="4.90" height="4.90" fill="#1c1c1c" stroke="#1e1e1e" stroke-width="1.4"/>
<text x="430.95" y="495.50" font-size="9.3" textLength="43.21" lengthAdjust="spacingAndGlyphs" fill="#1a1a1a" stroke="#1a1a1a" stroke-width="0.2">SFFVFAIEG</text>
<text x="344.60" y="614.80" font-size="11.3" textLength="27.63" lengthAdjust="spacingAndGlyphs" fill="#1a1a1a" stroke="#1a1a1a" stroke-width="0.2">0 nM</text>
<text x="442.09" y="614.80" font-size="11.3" textLength="33.84" lengthAdjust="spacingAndGlyphs" fill="#1a1a1a" stroke="#1a1a1a" stroke-width="0.2">10 nM</text>
<text x="370.46" y="629.30" font-size="11.2" font-weight="bold" textLength="68.13" lengthAdjust="spacingAndGlyphs" fill="#1a1a1a" stroke="#1a1a1a" stroke-width="0.2">Mitomycin C</text>
<text x="286.80" y="526.50" font-size="10" text-anchor="middle" font-weight="bold" textLength="110.50" lengthAdjust="spacingAndGlyphs" transform="rotate(-90 286.80 526.50)" fill="#1a1a1a" stroke="#1a1a1a" stroke-width="0.2">GFP+ CFCs /1x10<tspan dy="-3" font-size="6.5">5</tspan><tspan dy="3"> cells</tspan></text>
</g></svg>
</body></html>
